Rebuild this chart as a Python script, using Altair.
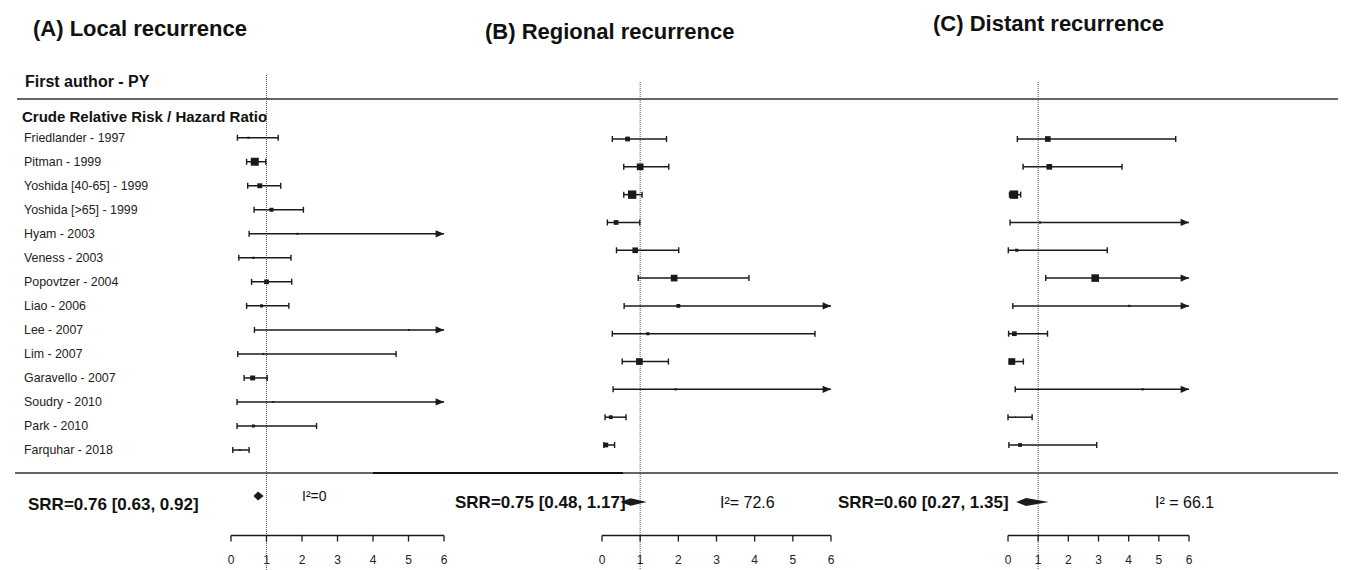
import altair as alt
import pandas as pd

FONT = "Liberation Sans"
INK = "#1a1a1a"

# ---------------- data ----------------
titles = ["(A) Local recurrence", "(B) Regional recurrence", "(C) Distant recurrence"]

studies_a = ["Friedlander - 1997", "Pitman - 1999", "Yoshida [40-65] - 1999",
             "Yoshida [>65] - 1999", "Hyam - 2003", "Veness - 2003",
             "Popovtzer - 2004", "Liao - 2006", "Lee - 2007", "Lim - 2007",
             "Garavello - 2007", "Soudry - 2010", "Park - 2010", "Farquhar - 2018"]
est_a = [0.49, 0.67, 0.81, 1.14, 1.87, 0.63, 1.00, 0.86, 5.01, 0.91, 0.61, 1.19, 0.63, 0.25]
lo_a = [0.18, 0.44, 0.47, 0.65, 0.51, 0.22, 0.58, 0.44, 0.66, 0.19, 0.37, 0.17, 0.17, 0.05]
hi_a = [1.33, 0.98, 1.40, 2.04, 7.50, 1.69, 1.71, 1.63, 9.00, 4.65, 1.02, 8.00, 2.41, 0.51]
w_a = [1.2, 20.0, 7.5, 5.0, 1.2, 1.5, 7.0, 3.0, 1.0, 1.2, 7.5, 1.2, 2.8, 1.0]

est_b = [0.67, 1.00, 0.79, 0.37, 0.87, 1.89, 2.00, 1.20, 0.98, 1.93, 0.23, 0.10]
lo_b = [0.27, 0.57, 0.57, 0.14, 0.38, 0.95, 0.58, 0.27, 0.53, 0.29, 0.08, 0.05]
hi_b = [1.69, 1.75, 1.05, 0.99, 2.01, 3.85, 7.00, 5.58, 1.74, 7.00, 0.63, 0.33]
w_b = [7.0, 14.0, 22.0, 7.0, 10.0, 14.0, 4.5, 3.0, 14.0, 1.5, 4.5, 7.0]

est_c = [1.32, 1.37, 0.20, 1.06, 0.29, 2.89, 4.02, 0.21, 0.13, 4.46, 0.25, 0.40]
lo_c = [0.31, 0.50, 0.05, 0.07, 0.01, 1.25, 0.16, 0.02, 0.04, 0.24, 0.00, 0.03]
hi_c = [5.56, 3.78, 0.42, 7.00, 3.29, 7.00, 7.00, 1.31, 0.51, 7.00, 0.80, 2.94]
w_c = [10.0, 10.0, 22.0, 1.5, 3.0, 18.0, 1.5, 7.0, 14.0, 1.5, 0.5, 4.5]

srr = [0.76, 0.75, 0.60]
srr_lo = [0.63, 0.48, 0.27]
srr_hi = [0.92, 1.17, 1.35]
srr_labels = ["SRR=0.76 [0.63,  0.92]", "SRR=0.75 [0.48, 1.17]", "SRR=0.60 [0.27,  1.35]"]
i2_labels = ["I²=0", "I²= 72.6", "I² = 66.1"]

ticks = [0, 1, 2, 3, 4, 5, 6]
ref_value = 1

# ---------------- layout (pixels, chart coordinates) ----------------
W, H = 1330, 562
layout = [
    dict(xr=[223, 436], yr=[129.7, 442], dash_top=67, dy=488, dh=4.5,
         sx=20, sy=497, ix=294, iy=489, isz=14, tx=25, ty=21),
    dict(xr=[594, 823], yr=[131, 437], dash_top=74, dy=494, dh=3.8,
         sx=447, sy=495, ix=712, iy=495, isz=16, tx=477, ty=24),
    dict(xr=[1000, 1181], yr=[131, 437], dash_top=74, dy=494, dh=4,
         sx=830, sy=495, ix=1147, iy=495, isz=16, tx=925, ty=16),
]

CAP = "M0,-1L0,1"
ARROW = "M-1.4,-0.6L0,0L-1.4,0.6Z"
XMAX = max(ticks)


def make_df(est, lo, hi, w, labels=None):
    n = len(est)
    df = pd.DataFrame({
        "row": list(range(1, n + 1)),
        "est": est, "lo": lo, "hi": hi, "w": w,
    })
    df["hi_clip"] = df["hi"].clip(upper=XMAX)
    if labels is not None:
        df["study"] = labels
    return df


def text_layer(txt, x, y, size, weight="normal", align="left"):
    return alt.Chart(pd.DataFrame({"t": [txt]})).mark_text(
        font=FONT, fontSize=size, fontWeight=weight, align=align,
        baseline="middle", color="#111"
    ).encode(x=alt.value(x), y=alt.value(y), text="t:N")


def panel(k, df):
    L = layout[k]
    n = len(df)
    xs = alt.Scale(domain=[0, XMAX], range=L["xr"], nice=False, zero=False)
    ys = alt.Scale(domain=[1, n], range=L["yr"], nice=False, zero=False)
    X = lambda f: alt.X(f, type="quantitative", scale=xs, axis=None)
    Y = alt.Y("row:Q", scale=ys, axis=None)
    base = alt.Chart(df)
    layers = []
    # reference dashed line at 1
    layers.append(
        alt.Chart(pd.DataFrame({"ref": [ref_value]})).mark_rule(
            color="#555", strokeDash=[1, 1], strokeWidth=1
        ).encode(x=X("ref"), y=alt.value(L["dash_top"]), y2=alt.value(H))
    )
    # CI lines
    layers.append(base.mark_rule(color=INK, strokeWidth=1.5).encode(
        x=X("lo"), x2="hi_clip:Q", y=Y))
    # caps
    layers.append(base.mark_point(shape=CAP, size=36, filled=False, color=INK,
                                  strokeWidth=1.4, opacity=1).encode(x=X("lo"), y=Y))
    layers.append(base.transform_filter(f"datum.hi <= {XMAX}").mark_point(
        shape=CAP, size=36, filled=False, color=INK, strokeWidth=1.4, opacity=1
    ).encode(x=X("hi"), y=Y))
    # arrows
    layers.append(base.transform_filter(f"datum.hi > {XMAX}").mark_point(
        shape=ARROW, size=144, filled=True, color=INK, opacity=1
    ).encode(x=X("hi_clip"), y=Y))
    # point estimates
    layers.append(base.mark_square(color=INK, opacity=1).encode(
        x=X("est"), y=Y,
        size=alt.Size("w:Q", scale=alt.Scale(domain=[0, 20], range=[0, 64]), legend=None)))
    # study labels
    if "study" in df.columns:
        layers.append(base.mark_text(font=FONT, fontSize=12.4, align="left",
                                     baseline="middle", color="#222").encode(
            x=alt.value(16), y=Y, text="study:N"))
    # axis
    tdf = pd.DataFrame({"t": ticks})
    layers.append(alt.Chart(pd.DataFrame({"a": [min(ticks)], "b": [max(ticks)]})).mark_rule(
        color=INK, strokeWidth=1.3).encode(x=X("a"), x2="b:Q", y=alt.value(527.5)))
    layers.append(alt.Chart(tdf).mark_rule(color=INK, strokeWidth=1.3).encode(
        x=X("t"), y=alt.value(527.5), y2=alt.value(533.5)))
    layers.append(alt.Chart(tdf).mark_text(font=FONT, fontSize=12, baseline="middle",
                                           color="#222").encode(
        x=X("t"), y=alt.value(551.5), text="t:Q"))
    # summary diamond
    ddf = pd.DataFrame({"x": [srr_lo[k], srr[k], srr_hi[k]],
                        "top": [0, 1, 0], "bot": [0, -1, 0]})
    dys = alt.Scale(domain=[-1, 1], range=[L["dy"] + L["dh"], L["dy"] - L["dh"]],
                    nice=False, zero=False)
    layers.append(alt.Chart(ddf).mark_area(color=INK, opacity=1).encode(
        x=X("x"), y=alt.Y("top:Q", scale=dys, axis=None), y2="bot:Q"))
    # texts
    layers.append(text_layer(titles[k], L["tx"], L["ty"], 22, "bold"))
    layers.append(text_layer(srr_labels[k], L["sx"], L["sy"], 17, "bold"))
    layers.append(text_layer(i2_labels[k], L["ix"], L["iy"], L["isz"]))
    return layers


dfs = [make_df(est_a, lo_a, hi_a, w_a, studies_a),
       make_df(est_b, lo_b, hi_b, w_b),
       make_df(est_c, lo_c, hi_c, w_c)]

layers = []
# horizontal separators
layers.append(alt.Chart(pd.DataFrame({"v": [0]})).mark_rule(color="#333", strokeWidth=1.3).encode(
    x=alt.value(9), x2=alt.value(W), y=alt.value(91)))
layers.append(alt.Chart(pd.DataFrame({"v": [0]})).mark_rule(color="#333", strokeWidth=1.3).encode(
    x=alt.value(7), x2=alt.value(W), y=alt.value(465)))
layers.append(alt.Chart(pd.DataFrame({"v": [0]})).mark_rule(color="#111", strokeWidth=2).encode(
    x=alt.value(365), x2=alt.value(615), y=alt.value(465)))
layers.append(text_layer("First author - PY", 17, 74, 16, "bold"))
layers.append(text_layer("Crude Relative Risk / Hazard Ratio", 14, 109, 15, "bold"))

for k in range(3):
    layers += panel(k, dfs[k])

chart = alt.layer(*layers).resolve_scale(
    x="independent", y="independent", size="independent"
).properties(
    width=W, height=H, padding=0, autosize=alt.AutoSizeParams(type="none"),
    background="white"
).configure_view(stroke=None)

chart.save("out.html", embed_options={"renderer": "svg", "actions": False})
